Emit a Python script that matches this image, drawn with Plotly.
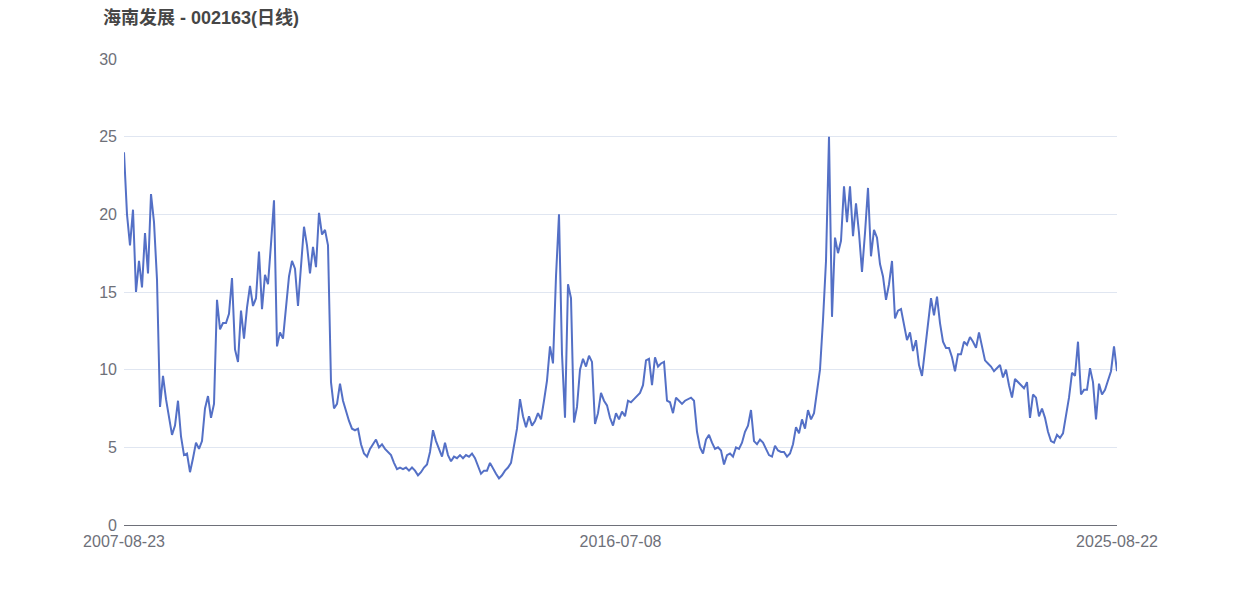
import plotly.graph_objects as go

title_text = "海南发展 - 002163(日线)"
x_tick_labels = ["2007-08-23", "2016-07-08", "2025-08-22"]
y_tick_values = [0, 5, 10, 15, 20, 25, 30]

close_values = [
    24.0, 20.0, 18.0, 20.3, 15.0, 17.0, 15.3, 18.8, 16.2, 21.3,
    19.5, 15.8, 7.6, 9.6, 8.1, 7.0, 5.8, 6.4, 8.0, 5.7,
    4.5, 4.6, 3.4, 4.3, 5.3, 4.9, 5.4, 7.5, 8.3, 6.9,
    7.8, 14.5, 12.6, 13.0, 13.0, 13.6, 15.9, 11.3, 10.5, 13.8,
    12.0, 14.0, 15.4, 14.1, 14.6, 17.6, 13.9, 16.1, 15.5, 18.1,
    20.9, 11.5, 12.4, 12.0, 14.0, 16.0, 17.0, 16.5, 14.1, 16.4,
    19.2, 18.0, 16.2, 17.9, 16.6, 20.1, 18.7, 19.0, 18.0, 9.2,
    7.5, 7.8, 9.1, 8.0, 7.3, 6.7, 6.2, 6.1, 6.2, 5.2,
    4.6, 4.4, 4.9, 5.2, 5.5, 5.0, 5.2, 4.9, 4.7, 4.5,
    4.0, 3.6, 3.7, 3.6, 3.7, 3.5, 3.7, 3.5, 3.2, 3.4,
    3.7, 3.9, 4.7, 6.1, 5.4, 4.9, 4.4, 5.3, 4.5, 4.1,
    4.4, 4.3, 4.5, 4.3, 4.5, 4.4, 4.6, 4.3, 3.8, 3.3,
    3.5, 3.5, 4.0, 3.6, 3.3, 3.0, 3.2, 3.5, 3.7, 4.0,
    5.0, 6.2, 8.1, 7.0, 6.3, 7.0, 6.4, 6.7, 7.2, 6.8,
    8.0, 9.3, 11.5, 10.4, 16.0, 20.0, 11.0, 6.9, 15.5, 14.6,
    6.6, 7.6, 10.0, 10.7, 10.2, 10.9, 10.5, 6.5, 7.2, 8.5,
    8.0, 7.7, 6.9, 6.4, 7.2, 6.8, 7.3, 7.0, 8.0, 7.9,
    8.1, 8.3, 8.5, 9.0, 10.6, 10.7, 9.0, 10.8, 10.2, 10.4,
    10.5, 8.0, 7.9, 7.2, 8.2, 8.0, 7.8, 8.0, 8.1, 8.2,
    8.0, 6.0, 5.0, 4.6, 5.5, 5.8, 5.3, 4.9, 5.0, 4.8,
    3.9, 4.5, 4.6, 4.4, 5.0, 4.9, 5.3, 6.0, 6.4, 7.4,
    5.4, 5.2, 5.5, 5.3, 4.9, 4.5, 4.4, 5.1, 4.8, 4.7,
    4.7, 4.4, 4.6, 5.2, 6.3, 5.9, 6.8, 6.2, 7.4, 6.8,
    7.2, 8.8, 10.0, 13.2, 17.0, 25.0, 13.4, 18.5, 17.5, 18.3,
    21.8, 19.5, 21.8, 18.6, 20.7, 18.8, 16.3, 18.8, 21.7, 17.3,
    19.0, 18.5, 16.8, 16.0, 14.5, 15.5, 17.0, 13.3, 13.8, 13.9,
    13.0, 11.9, 12.4, 11.2, 11.9, 10.3, 9.6, 11.2, 13.2, 14.6,
    13.5, 14.7, 13.0, 11.8, 11.4, 11.4, 10.8, 9.9, 11.0, 11.0,
    11.8, 11.6, 12.1, 11.8, 11.4, 12.4, 11.5, 10.6, 10.4, 10.2,
    9.9, 10.1, 10.3, 9.5, 10.0, 9.0, 8.2, 9.4, 9.2, 9.0,
    8.8, 9.2, 6.9, 8.4, 8.2, 7.0, 7.5, 6.9, 6.0, 5.4,
    5.3, 5.8, 5.6, 5.9, 7.1, 8.2, 9.8, 9.6, 11.8, 8.4,
    8.7, 8.7, 10.1, 9.2, 6.8, 9.1, 8.4, 8.7, 9.3, 9.9,
    11.5, 9.9,
]

n = len(close_values)
x_index = list(range(n))
tick_positions = [0, (n - 1) / 2, n - 1]

fig = go.Figure()
fig.add_trace(go.Scatter(
    x=x_index,
    y=close_values,
    mode="lines",
    line=dict(color="#5470C6", width=2),
    hoverinfo="y",
    showlegend=False,
))

font_family = "Liberation Sans, Arial, Noto Sans CJK SC, sans-serif"

# page body has an 8px margin, so the figure is offset by (8, 8)
fig_w, fig_h = 1234, 588

fig.update_layout(
    width=fig_w,
    height=fig_h,
    margin=dict(l=116, r=125, t=51, b=71),
    paper_bgcolor="white",
    plot_bgcolor="white",
    font=dict(family=font_family, color="#6E7079", size=16),
    title=dict(
        text="<b>" + title_text + "</b>",
        x=95 / fig_w,
        xref="container",
        xanchor="left",
        y=1,
        yref="container",
        yanchor="top",
        pad=dict(t=3, b=0, l=0, r=0),
        font=dict(family=font_family, size=18, color="#464646"),
    ),
    xaxis=dict(
        range=[0, n - 1],
        tickmode="array",
        tickvals=tick_positions,
        ticktext=x_tick_labels,
        showgrid=False,
        zeroline=False,
        showline=True,
        linecolor="#6E7079",
        linewidth=1,
        ticks="",
        ticklabelstandoff=2,
        tickfont=dict(size=16, color="#6E7079"),
    ),
    yaxis=dict(
        range=[0, 30],
        tickmode="array",
        tickvals=y_tick_values,
        showgrid=True,
        gridcolor="#E0E6F1",
        gridwidth=1,
        zeroline=False,
        showline=False,
        ticks="",
        ticklabelstandoff=6,
        tickfont=dict(size=16, color="#6E7079"),
    ),
)

fig.write_html("out.html")
